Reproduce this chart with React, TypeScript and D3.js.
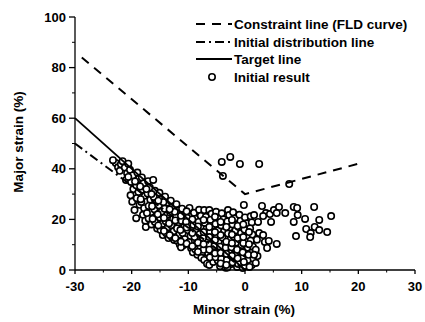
import React from "react";
import * as d3 from "d3";

const xTicks = [-30, -20, -10, 0, 10, 20, 30];
const yTicks = [0, 20, 40, 60, 80, 100];
const xMinor = [-25, -15, -5, 5, 15, 25];
const yMinor = [10, 30, 50, 70, 90];

const constraintLine: [number, number][] = [[-28.8, 84], [0, 30], [20, 42]];
const distributionLine: [number, number][] = [[-30, 50], [0, 0]];
const targetLine: [number, number][] = [[-30, 60], [0, 0]];

const outlierPoints: [number, number][] = [
  [-4.1, 42.7], [-2.6, 44.7], [-0.9, 41.9], [2.5, 41.9], [-3.9, 37.2], [7.8, 34.0],
  [-0.2, 25.7], [3.0, 25.3], [3.7, 22.5], [3.2, 21.3], [4.4, 22.1], [5.1, 23.7],
  [6.0, 24.9], [5.6, 22.5], [4.6, 19.0], [7.1, 22.5], [8.6, 24.9], [9.2, 24.5],
  [9.3, 21.7], [8.6, 19.0], [10.6, 20.2], [12.2, 24.9], [13.1, 19.8], [15.2, 21.3],
  [10.8, 16.2], [11.6, 14.6], [12.3, 17.0], [13.1, 15.8], [11.5, 13.0], [14.5, 15.0],
  [9.0, 13.4], [3.2, 13.8], [3.5, 11.1], [4.2, 11.5], [3.9, 8.7], [5.6, 10.3],
];

const bandPoints: [number, number][] = [
  [-22.8, 42.3], [-22.4, 40.6], [-23.3, 43.4],
  [-21.9, 41.8], [-22.1, 39.2], [-21.6, 43.0],
  [-21.2, 40.5], [-20.8, 38.2], [-21.0, 35.6], [-20.6, 42.0],
  [-20.3, 39.6], [-19.8, 37.4], [-20.1, 34.8], [-19.7, 32.0], [-20.2, 29.5], [-19.5, 23.7], [-19.2, 20.5], [-19.9, 27.0],
  [-19.0, 38.5], [-18.7, 36.0], [-19.2, 33.5], [-18.8, 30.8], [-19.1, 28.4], [-18.6, 25.8],
  [-18.2, 36.6], [-17.9, 34.2], [-18.1, 31.8], [-17.7, 29.3], [-18.3, 26.9], [-17.8, 24.4], [-18.0, 21.8], [-17.5, 17.0], [-17.6, 19.5],
  [-17.1, 35.1], [-16.8, 32.6], [-17.2, 30.2], [-16.7, 27.8], [-17.0, 25.3], [-16.6, 22.9], [-17.0, 20.4], [-16.5, 18.0],
  [-16.2, 35.6], [-15.9, 31.3], [-16.1, 28.9], [-15.7, 26.4], [-16.0, 24.0], [-15.6, 21.5], [-15.9, 19.0], [-15.5, 16.4],
  [-15.1, 30.5], [-14.8, 28.0], [-15.2, 25.6], [-14.7, 23.1], [-15.0, 20.7], [-14.6, 18.2], [-14.9, 15.8], [-14.5, 13.8],
  [-14.1, 29.0], [-13.8, 26.6], [-14.2, 24.2], [-13.7, 21.8], [-14.0, 19.3], [-13.6, 16.9], [-13.9, 14.5], [-13.5, 12.6],
  [-13.1, 27.4], [-12.8, 25.0], [-13.2, 22.6], [-12.7, 20.1], [-13.0, 17.7], [-12.6, 15.3], [-12.9, 12.9], [-12.5, 11.9],
  [-12.1, 26.0], [-11.8, 23.6], [-12.2, 21.2], [-11.7, 18.8], [-12.0, 16.4], [-11.6, 14.0], [-11.9, 11.5], [-11.5, 10.0],
  [-11.1, 24.2], [-10.8, 21.8], [-11.2, 19.4], [-10.7, 17.0], [-11.0, 14.6], [-10.6, 12.2], [-10.9, 9.8], [-11.3, 9.0],
  [-10.0, 23.4], [-9.8, 24.5], [-10.2, 20.6], [-9.7, 18.2], [-10.1, 15.8], [-9.6, 13.4], [-9.9, 11.0], [-9.5, 8.6], [-9.2, 7.0],
  [-9.0, 22.6], [-8.7, 20.2], [-9.1, 17.8], [-8.6, 15.4], [-8.9, 13.0], [-8.5, 10.6], [-8.8, 8.2], [-8.4, 6.0],
  [-8.1, 23.8], [-7.8, 21.4], [-8.2, 19.0], [-7.7, 16.6], [-8.0, 14.2], [-7.6, 11.8], [-7.9, 9.4], [-7.5, 7.0], [-7.7, 4.8],
  [-7.2, 23.7], [-6.9, 21.0], [-7.1, 18.6], [-6.8, 16.2], [-7.0, 13.8], [-6.6, 11.4], [-6.9, 9.0], [-6.5, 6.6], [-7.2, 4.0], [-6.7, 2.5],
  [-6.3, 23.7], [-5.9, 22.2], [-6.1, 19.8], [-5.8, 17.4], [-6.2, 15.0], [-5.7, 12.6], [-6.0, 10.2], [-5.6, 7.8], [-5.9, 5.4], [-6.3, 2.0], [-5.6, 3.2],
  [-5.1, 23.0], [-4.8, 20.6], [-5.2, 18.2], [-4.7, 15.8], [-5.0, 13.4], [-4.6, 11.0], [-4.9, 8.6], [-4.5, 6.2], [-4.8, 3.8], [-4.4, 1.5],
  [-4.1, 22.4], [-3.8, 20.0], [-4.2, 17.6], [-3.7, 15.2], [-4.0, 12.8], [-3.6, 10.4], [-3.9, 8.0], [-3.5, 5.6], [-3.8, 3.2], [-3.4, 0.9],
  [-3.0, 23.7], [-2.8, 21.7], [-3.1, 19.2], [-2.7, 16.8], [-3.0, 14.4], [-2.6, 12.0], [-2.9, 9.6], [-2.5, 7.2], [-2.8, 4.8], [-2.4, 2.4], [-3.1, 1.0],
  [-2.1, 22.8], [-1.8, 20.4], [-2.2, 18.0], [-1.7, 15.6], [-2.0, 13.2], [-1.6, 10.8], [-1.9, 8.4], [-1.5, 6.0], [-1.8, 3.6], [-1.4, 1.2],
  [-1.0, 21.8], [-0.8, 19.4], [-1.1, 17.0], [-0.7, 14.6], [-1.0, 12.2], [-0.6, 9.8], [-0.9, 7.4], [-0.5, 5.0], [-0.8, 2.6], [-0.4, 0.8],
  [0.0, 20.8], [0.3, 18.4], [-0.1, 16.0], [0.4, 13.6], [0.1, 11.2], [0.5, 8.8], [0.2, 6.4], [0.6, 4.0], [0.0, 1.6],
  [1.0, 21.2], [1.2, 18.8], [0.9, 16.4], [1.3, 14.0], [1.0, 11.6], [1.4, 9.2], [1.1, 6.8], [1.5, 4.4], [1.2, 2.0],
  [1.6, 21.7], [2.3, 19.0], [2.5, 14.6], [2.1, 12.0], [1.9, 8.0], [2.2, 5.5], [1.9, 2.8],
  [-7.4, 12.6], [-6.4, 10.0], [-5.4, 9.4], [-4.4, 9.2], [-3.4, 8.8], [-2.4, 9.0], [-1.4, 8.0], [-0.4, 7.0], [0.6, 6.0],
  [-7.3, 8.0], [-6.2, 5.0], [-5.2, 5.0], [-4.2, 4.4], [-3.2, 4.0], [-2.2, 3.0], [-1.2, 2.4], [-0.2, 3.2], [0.8, 1.2],
  [-8.3, 10.8], [-7.3, 15.0], [-6.3, 13.0], [-5.3, 11.8], [-4.3, 13.8], [-3.3, 11.2], [-2.3, 14.0], [-1.3, 12.6], [-0.3, 10.6],
  [-16.5, 30.0], [-14.4, 26.8], [-12.4, 23.0], [-10.4, 19.0], [-18.5, 33.0], [-15.4, 22.0], [-13.4, 18.4], [-11.4, 15.8],
  [-20.6, 36.8], [-19.4, 35.0], [-18.4, 28.0], [-17.4, 32.0], [-17.3, 22.5], [-16.3, 20.2], [-16.4, 25.2], [-15.3, 27.4],
  [-15.3, 17.6], [-14.3, 20.6], [-14.3, 15.4], [-13.3, 24.0], [-13.3, 13.8], [-12.3, 19.6], [-12.3, 12.6], [-11.3, 21.4],
  [-11.3, 11.2], [-10.3, 23.2], [-10.3, 16.8], [-10.3, 10.4], [-9.3, 20.0], [-9.3, 14.6], [-9.3, 9.4], [-8.3, 17.2],
  [-8.3, 7.2], [-7.3, 19.8], [-7.3, 10.2], [-6.3, 17.0], [-6.3, 8.0], [-5.3, 21.0], [-5.3, 15.0], [-5.3, 6.6],
  [-4.3, 19.0], [-4.3, 6.8], [-4.3, 2.6], [-3.3, 17.0], [-3.3, 6.4], [-3.3, 2.0], [-2.3, 19.8], [-2.3, 10.6],
  [-2.3, 5.6], [-1.3, 17.4], [-1.3, 4.6], [-0.3, 18.0], [-0.3, 13.0], [0.7, 15.0], [0.7, 10.2], [1.6, 6.0],
];

const W = 425;
const H = 322;
const FONT = "'Liberation Sans', Arial, sans-serif";

export default function App() {
  const x = d3.scaleLinear().domain([-30, 30]).range([75, 415]);
  const y = d3.scaleLinear().domain([0, 100]).range([270, 17]);
  const line = d3.line<[number, number]>().x((d) => x(d[0])).y((d) => y(d[1]));
  const allPoints = [...bandPoints, ...outlierPoints];

  const legendX0 = 196;
  const legendX1 = 232;
  const legendRows = [24, 42, 59, 77];

  return (
    <svg width={W} height={H} style={{ position: "absolute", left: 0, top: 0, background: "#fff" }}>
      <g>
        {allPoints.map((p, i) => (
          <circle key={i} cx={x(p[0])} cy={y(p[1])} r={3.2} fill="#fff" stroke="#000" strokeWidth={1.6} />
        ))}
      </g>
      <path d={line(constraintLine) ?? ""} fill="none" stroke="#000" strokeWidth={2} strokeDasharray="9,7" />
      <path d={line(distributionLine) ?? ""} fill="none" stroke="#000" strokeWidth={2} strokeDasharray="9,4,2,4" />
      <path d={line(targetLine) ?? ""} fill="none" stroke="#000" strokeWidth={1.8} />

      <line x1={x(-30)} x2={x(30)} y1={y(0)} y2={y(0)} stroke="#000" strokeWidth={1.3} />
      <line x1={x(-30)} x2={x(-30)} y1={y(0)} y2={y(100)} stroke="#000" strokeWidth={1.3} />
      {xTicks.map((t) => (
        <g key={"xt" + t}>
          <line x1={x(t)} x2={x(t)} y1={y(0)} y2={y(0) + 4} stroke="#000" strokeWidth={1.3} />
          <text x={x(t)} y={291} textAnchor="middle" fontFamily={FONT} fontWeight="bold" fontSize={13}>
            {t}
          </text>
        </g>
      ))}
      {xMinor.map((t) => (
        <line key={"xm" + t} x1={x(t)} x2={x(t)} y1={y(0)} y2={y(0) + 2.5} stroke="#000" strokeWidth={1} />
      ))}
      {yTicks.map((t) => (
        <g key={"yt" + t}>
          <line x1={x(-30) - 6} x2={x(-30)} y1={y(t)} y2={y(t)} stroke="#000" strokeWidth={1.3} />
          <text x={x(-30) - 9} y={y(t) + 4.5} textAnchor="end" fontFamily={FONT} fontWeight="bold" fontSize={13}>
            {t}
          </text>
        </g>
      ))}
      {yMinor.map((t) => (
        <line key={"ym" + t} x1={x(-30) - 3} x2={x(-30)} y1={y(t)} y2={y(t)} stroke="#000" strokeWidth={1} />
      ))}

      <text x={244} y={314} textAnchor="middle" fontFamily={FONT} fontWeight="bold" fontSize={13.5}>
        Minor strain (%)
      </text>
      <text
        transform={`translate(23,142) rotate(-90)`}
        textAnchor="middle"
        fontFamily={FONT}
        fontWeight="bold"
        fontSize={13.5}
      >
        Major strain (%)
      </text>

      <line x1={legendX0} x2={legendX1} y1={legendRows[0]} y2={legendRows[0]} stroke="#000" strokeWidth={2} strokeDasharray="9,7" />
      <line x1={legendX0} x2={legendX1} y1={legendRows[1]} y2={legendRows[1]} stroke="#000" strokeWidth={2} strokeDasharray="9,4,2,4" />
      <line x1={legendX0} x2={legendX1} y1={legendRows[2]} y2={legendRows[2]} stroke="#000" strokeWidth={1.8} />
      <circle cx={(legendX0 + legendX1) / 2 - 2} cy={legendRows[3]} r={3.2} fill="#fff" stroke="#000" strokeWidth={1.6} />
      {["Constraint line (FLD curve)", "Initial distribution line", "Target line", "Initial result"].map((s, i) => (
        <text key={s} x={234} y={legendRows[i] + 4.8} fontFamily={FONT} fontWeight="bold" fontSize={13.5}>
          {s}
        </text>
      ))}
    </svg>
  );
}
